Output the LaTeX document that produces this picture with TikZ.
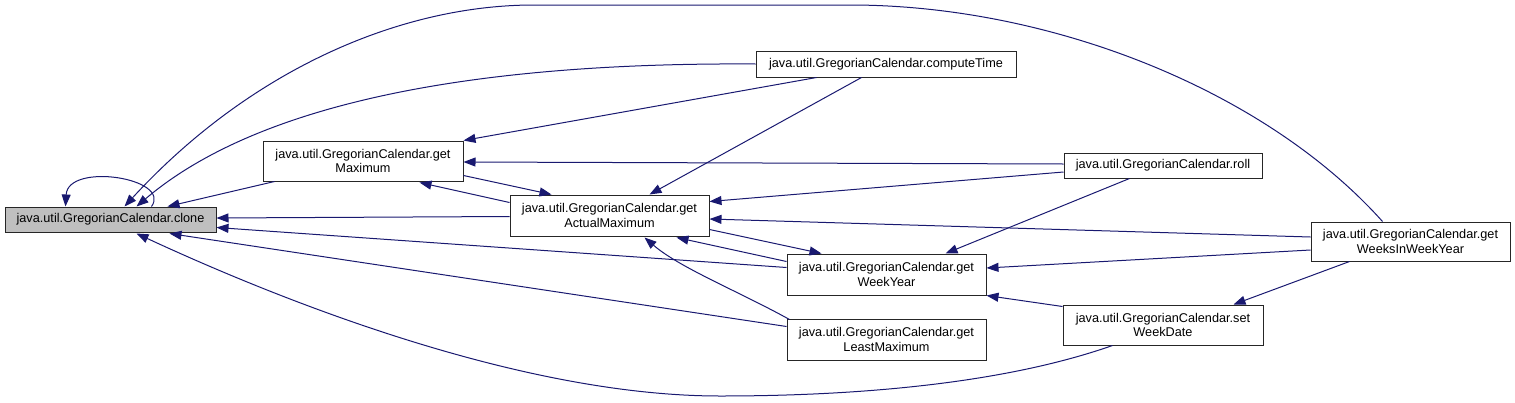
\documentclass[tikz,border=0pt]{standalone}
\usepackage{fontspec}
\setmainfont{Liberation Sans}
\usetikzlibrary{arrows.meta,calc}
\definecolor{edgeblue}{RGB}{25,25,112}
\definecolor{clonegray}{RGB}{191,191,191}
\begin{document}
\begin{tikzpicture}[x=1pt,y=-1pt,
  box/.style={draw=black!85, line width=1pt, fill=white, inner sep=0pt, align=center,
    font=\fontsize{12.7}{14.5}\selectfont},
  edge/.style={draw=edgeblue, line width=1pt, -{Triangle[length=12pt,width=9pt]}, edgeblue}]
\useasboundingbox (0,0) rectangle (1515,402);
% nodes
\node[box, fill=clonegray, minimum width=211pt, minimum height=25pt] (clone) at (110.5,219.5) {java.util.GregorianCalendar.clone};
\node[box, minimum width=200pt, minimum height=40pt] (gm) at (363,161) {java.util.GregorianCalendar.get\\Maximum};
\node[box, minimum width=199pt, minimum height=41pt] (gam) at (609.5,215.5) {java.util.GregorianCalendar.get\\ActualMaximum};
\node[box, minimum width=260pt, minimum height=26pt] (ct) at (886,64) {java.util.GregorianCalendar.computeTime};
\node[box, minimum width=198pt, minimum height=25pt] (roll) at (1163,165.5) {java.util.GregorianCalendar.roll};
\node[box, minimum width=199pt, minimum height=41pt] (gwy) at (886.5,274.5) {java.util.GregorianCalendar.get\\WeekYear};
\node[box, minimum width=199pt, minimum height=41pt] (glm) at (886.5,339.5) {java.util.GregorianCalendar.get\\LeastMaximum};
\node[box, minimum width=200pt, minimum height=40pt] (swd) at (1163,325) {java.util.GregorianCalendar.set\\WeekDate};
\node[box, minimum width=199pt, minimum height=39pt] (gwiwy) at (1410.5,241.5) {java.util.GregorianCalendar.get\\WeeksInWeekYear};
% edges into clone
\draw[edge] ($(clone.north west)+(147,0)$) .. controls (172,178) and (68,162) .. ($(clone.north west)+(61,0)$);
\draw[edge] ($(gm.south west)+(12,0)$) -- ($(clone.north west)+(163,0)$);
\draw[edge] ($(gam.west)+(0,1)$) -- ($(clone.east)+(0,-1.5)$);
\draw[edge] ($(gwy.north west)+(0,14)$) -- ($(clone.north east)+(0,21)$);
\draw[edge] ($(glm.north west)+(0,8)$) -- ($(clone.south west)+(165,1)$);
\draw[edge] ($(swd.south west)+(50,0)$) .. controls (1000,385) and (850,396) .. (720,396)
  .. controls (520,396) and (280,300) .. ($(clone.south west)+(132,1)$);
\draw[edge] (ct.west) .. controls (450,62) and (250,110) .. ($(clone.north west)+(132,0)$);
\draw[edge] ($(gwiwy.north west)+(72,0)$) .. controls (1265,90) and (1050,5) .. (850,5)
  -- (534,5) .. controls (400,5) and (250,70) .. ($(clone.north west)+(120,0)$);
% edges into getMaximum
\draw[edge] ($(ct.south west)+(61,0)$) -- (gm.north east);
\draw[edge] ($(roll.west)+(0,-1.5)$) -- ($(gm.east)+(0,1)$);
\draw[edge] ($(gam.north west)+(0,8)$) -- ($(gm.south west)+(157,1)$);
% edges into getActualMaximum
\draw[edge] ($(gm.south east)+(0,-6)$) -- ($(gam.north west)+(42,0)$);
\draw[edge] ($(ct.south west)+(106,0)$) -- ($(gam.north west)+(140,0)$);
\draw[edge] ($(roll.west)+(0,6.5)$) -- ($(gam.north east)+(0,7)$);
\draw[edge] ($(gwiwy.west)+(0,-4.5)$) -- ($(gam.east)+(0,3.5)$);
\draw[edge] ($(gwy.north west)+(0,8)$) -- ($(gam.south west)+(167,1)$);
\draw[edge] ($(glm.north west)+(3,1)$) .. controls (740,292) and (680,268) .. ($(gam.south west)+(135,1)$);
% edges into getWeekYear
\draw[edge] ($(gam.south east)+(0,-7)$) -- ($(gwy.north west)+(35,0)$);
\draw[edge] ($(roll.south west)+(66,0)$) -- ($(gwy.north east)+(-41,0)$);
\draw[edge] ($(gwiwy.west)+(0,8.5)$) -- ($(gwy.east)+(0,-6.5)$);
\draw[edge] ($(swd.north west)+(0,2)$) -- (gwy.south east);
% edge into setWeekDate
\draw[edge] ($(gwiwy.south west)+(39,0)$) -- ($(swd.north east)+(-30,0)$);
\end{tikzpicture}
\end{document}
